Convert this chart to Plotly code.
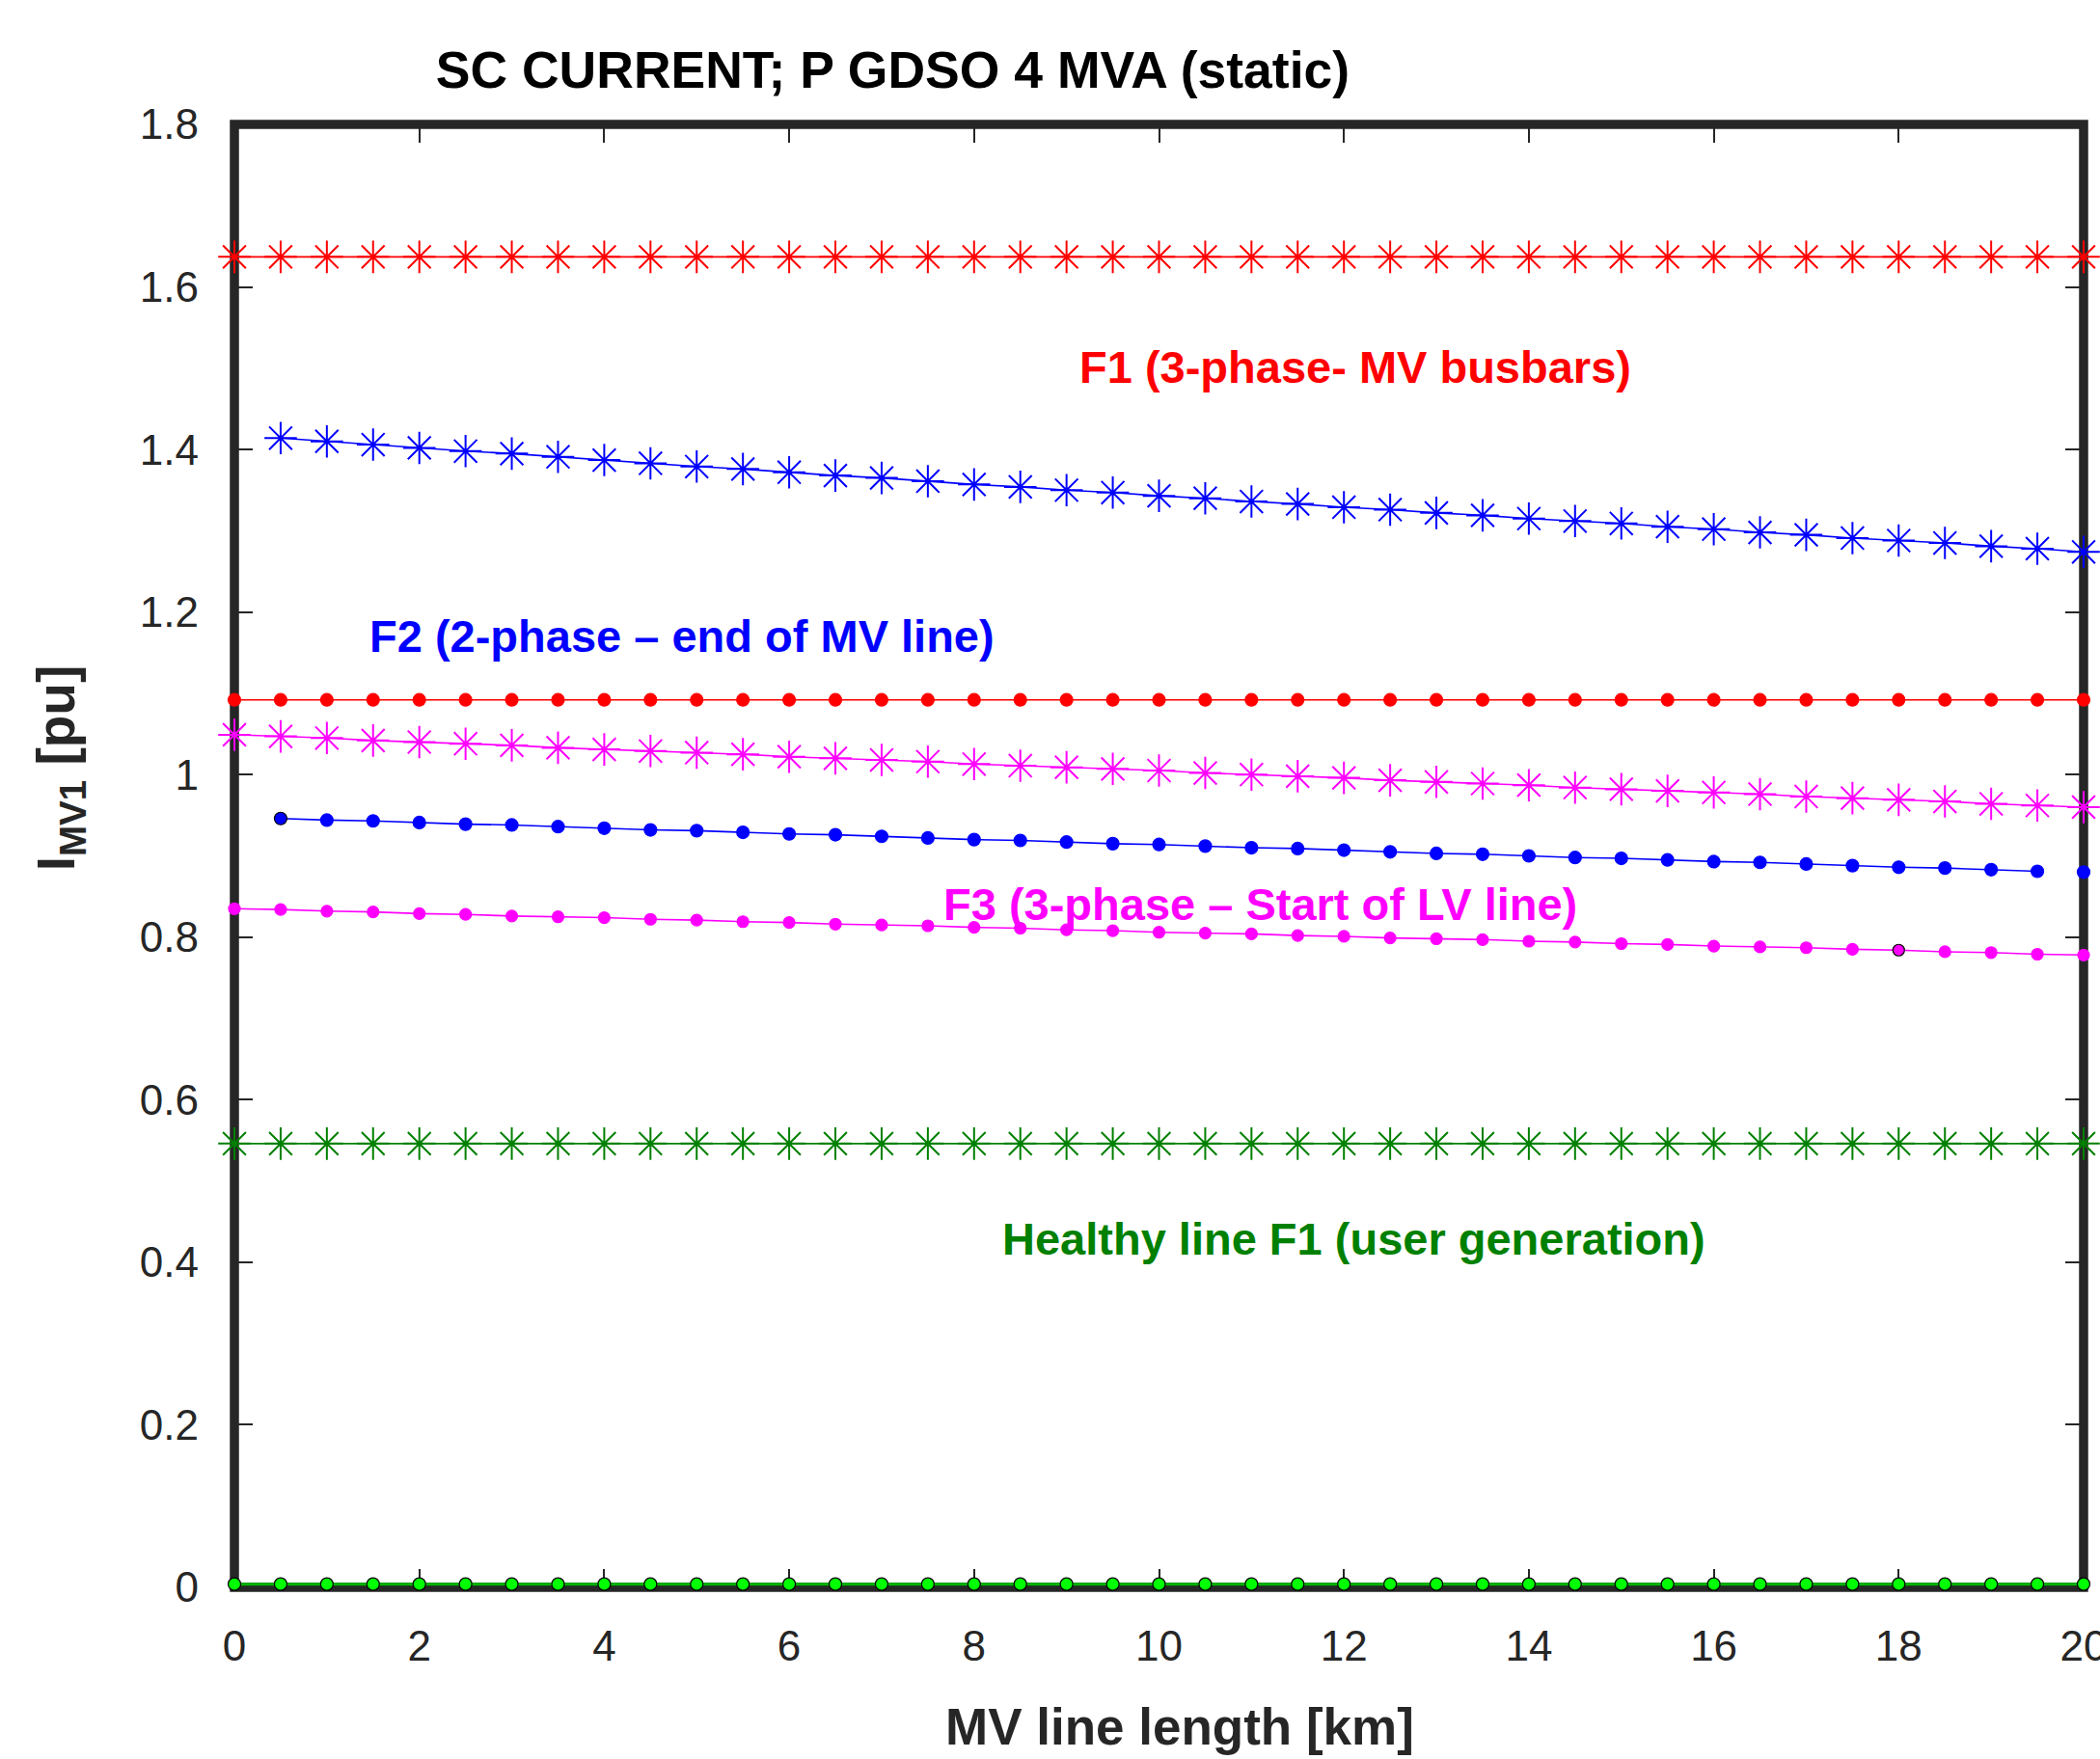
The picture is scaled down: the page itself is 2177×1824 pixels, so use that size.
import plotly.graph_objects as go

# ---------------- data ----------------
x_all = [0, 0.5, 1, 1.5, 2, 2.5, 3, 3.5, 4, 4.5, 5, 5.5, 6, 6.5, 7, 7.5, 8, 8.5, 9, 9.5,
         10, 10.5, 11, 11.5, 12, 12.5, 13, 13.5, 14, 14.5, 15, 15.5, 16, 16.5, 17, 17.5,
         18, 18.5, 19, 19.5, 20]

# F1 three-phase MV busbars (asterisk) and its dotted companion
f1_star = [1.637] * len(x_all)
f1_dot = [1.092] * len(x_all)

# F2 two-phase end of MV line (asterisk from 0.5 km)
x_from_half = x_all[1:]
f2_star = [1.414, 1.410, 1.406, 1.402, 1.398, 1.395, 1.391, 1.387, 1.383, 1.379,
           1.376, 1.372, 1.368, 1.365, 1.361, 1.357, 1.354, 1.350, 1.347, 1.343,
           1.340, 1.336, 1.333, 1.329, 1.326, 1.322, 1.319, 1.315, 1.312, 1.309,
           1.305, 1.302, 1.298, 1.295, 1.291, 1.288, 1.285, 1.281, 1.278, 1.274]

# F2 dots: 0.5 .. 19.5 km connected, plus separate point at 20 km
x_f2_dot = x_all[1:40] + [None, 20]
f2_dot = [0.946, 0.944, 0.943, 0.941, 0.939, 0.938, 0.936, 0.934, 0.932, 0.931,
          0.929, 0.927, 0.926, 0.924, 0.922, 0.920, 0.919, 0.917, 0.915, 0.914,
          0.912, 0.910, 0.909, 0.907, 0.905, 0.903, 0.902, 0.900, 0.898, 0.897,
          0.895, 0.893, 0.892, 0.890, 0.888, 0.886, 0.885, 0.883, 0.881, None, 0.880]

# F3 three-phase start of LV line
f3_star = [1.049, 1.047, 1.045, 1.042, 1.040, 1.038, 1.036, 1.033, 1.031, 1.029,
           1.027, 1.025, 1.022, 1.020, 1.018, 1.016, 1.013, 1.011, 1.009, 1.007,
           1.005, 1.002, 1.000, 0.998, 0.996, 0.993, 0.991, 0.989, 0.987, 0.984,
           0.982, 0.980, 0.978, 0.976, 0.973, 0.971, 0.969, 0.967, 0.964, 0.962, 0.960]
f3_dot = [0.835, 0.834, 0.832, 0.831, 0.829, 0.828, 0.826, 0.825, 0.824, 0.822,
          0.821, 0.819, 0.818, 0.816, 0.815, 0.814, 0.812, 0.811, 0.809, 0.808,
          0.806, 0.805, 0.804, 0.802, 0.801, 0.799, 0.798, 0.797, 0.795, 0.794,
          0.792, 0.791, 0.789, 0.788, 0.787, 0.785, 0.784, 0.782, 0.781, 0.779, 0.778]

# Healthy line F1 (user generation)
healthy_star = [0.546] * len(x_all)
healthy_dot = [0.004] * len(x_all)

x_ticks = [0, 2, 4, 6, 8, 10, 12, 14, 16, 18, 20]
y_ticks = [0, 0.2, 0.4, 0.6, 0.8, 1.0, 1.2, 1.4, 1.6, 1.8]
y_tick_text = ["0", "0.2", "0.4", "0.6", "0.8", "1", "1.2", "1.4", "1.6", "1.8"]
x_range = [0, 20]
y_range = [0, 1.8]

labels = [
    ("F1 (3-phase- MV busbars)", 12.12, 1.502, "#FF0000"),
    ("F2 (2-phase \u2013 end of MV line)", 4.84, 1.170, "#0000FF"),
    ("F3 (3-phase \u2013 Start of LV line)", 11.10, 0.841, "#FF00FF"),
    ("Healthy line F1 (user generation)", 12.11, 0.429, "#008000"),
]

# ---------------- figure ----------------
FONT = "Arial, Liberation Sans, Helvetica, sans-serif"
AX = "#262626"
fig = go.Figure()

def star(x, y, color, lw=1.6):
    fig.add_trace(go.Scatter(
        x=x, y=y, mode="lines+markers", cliponaxis=False,
        line=dict(color=color, width=lw),
        marker=dict(symbol="asterisk-open", size=28, color=color,
                    line=dict(color=color, width=2.0)),
        showlegend=False, hoverinfo="x+y"))

def dot(x, y, color, lw=1.6, size=13, outline=None, linecolor=None):
    fig.add_trace(go.Scatter(
        x=x, y=y, mode="lines+markers", cliponaxis=False,
        line=dict(color=linecolor or color, width=lw),
        marker=dict(symbol="circle", size=size, color=color,
                    line=dict(color=outline if outline is not None else color, width=1.2)),
        showlegend=False, hoverinfo="x+y"))

star(x_all, f1_star, "#FF0000")
dot(x_all, f1_dot, "#FF0000")
star(x_from_half, f2_star, "#0000FF")
f2_outline = ["#000000"] + ["#0000FF"] * (len(x_f2_dot) - 1)
dot(x_f2_dot, f2_dot, "#0000FF", outline=f2_outline)
star(x_all, f3_star, "#FF00FF")
f3_outline = ["#FF00FF"] * len(x_all)
f3_outline[36] = "#000000"
dot(x_all, f3_dot, "#FF00FF", size=12, outline=f3_outline)
star(x_all, healthy_star, "#008000")
dot(x_all, healthy_dot, "#00FF00", lw=3, size=13, outline="#000000", linecolor="#00B400")

for text, lx, ly, col in labels:
    fig.add_annotation(x=lx, y=ly, xref="x", yref="y", text="<b>" + text + "</b>",
                       showarrow=False, font=dict(family=FONT, size=47, color=col),
                       xanchor="center", yanchor="middle")

# axis titles as annotations
fig.add_annotation(x=0.511, y=-0.0955, xref="paper", yref="paper",
                   text="<b>MV line length [km]</b>", showarrow=False,
                   font=dict(family=FONT, size=53, color=AX),
                   xanchor="center", yanchor="middle")
fig.add_annotation(x=-0.094, y=0.560, xref="paper", yref="paper",
                   text="<b>I<sub>MV1</sub> [pu]</b>", showarrow=False, textangle=-90,
                   font=dict(family=FONT, size=55, color=AX),
                   xanchor="center", yanchor="middle")

# thick box frame centred on the plot-area edges (= data limits)
fig.add_shape(type="rect", xref="paper", yref="paper", x0=0, x1=1, y0=0, y1=1,
              line=dict(color=AX, width=9.5), fillcolor="rgba(0,0,0,0)", layer="below")

axis_common = dict(
    showgrid=False, zeroline=False, showline=False,
    mirror="ticks", ticks="inside", ticklen=19, tickwidth=1.5, tickcolor=AX,
    tickfont=dict(family=FONT, size=44, color=AX), layer="below traces",
)

fig.update_layout(
    width=2200, height=1824, autosize=False,
    margin=dict(l=243, r=40, t=129, b=178),
    paper_bgcolor="white", plot_bgcolor="white",
    title=dict(text="<b>SC CURRENT; P GDSO 4 MVA (static)</b>",
               font=dict(family=FONT, size=53.5, color="#000000"),
               x=0.356, xref="paper", xanchor="center",
               y=1 - 72 / 1824, yref="container", yanchor="middle"),
    xaxis=dict(range=x_range, tickvals=x_ticks, ticklabelstandoff=31, **axis_common),
    yaxis=dict(range=y_range, tickvals=y_ticks, ticktext=y_tick_text,
               ticklabelstandoff=36, **axis_common),
)

fig.write_html(
    "out.html",
    config={"displayModeBar": False},
    post_script="document.body.style.margin='0';document.body.style.overflow='hidden';"
                "document.documentElement.style.overflow='hidden';",
)
